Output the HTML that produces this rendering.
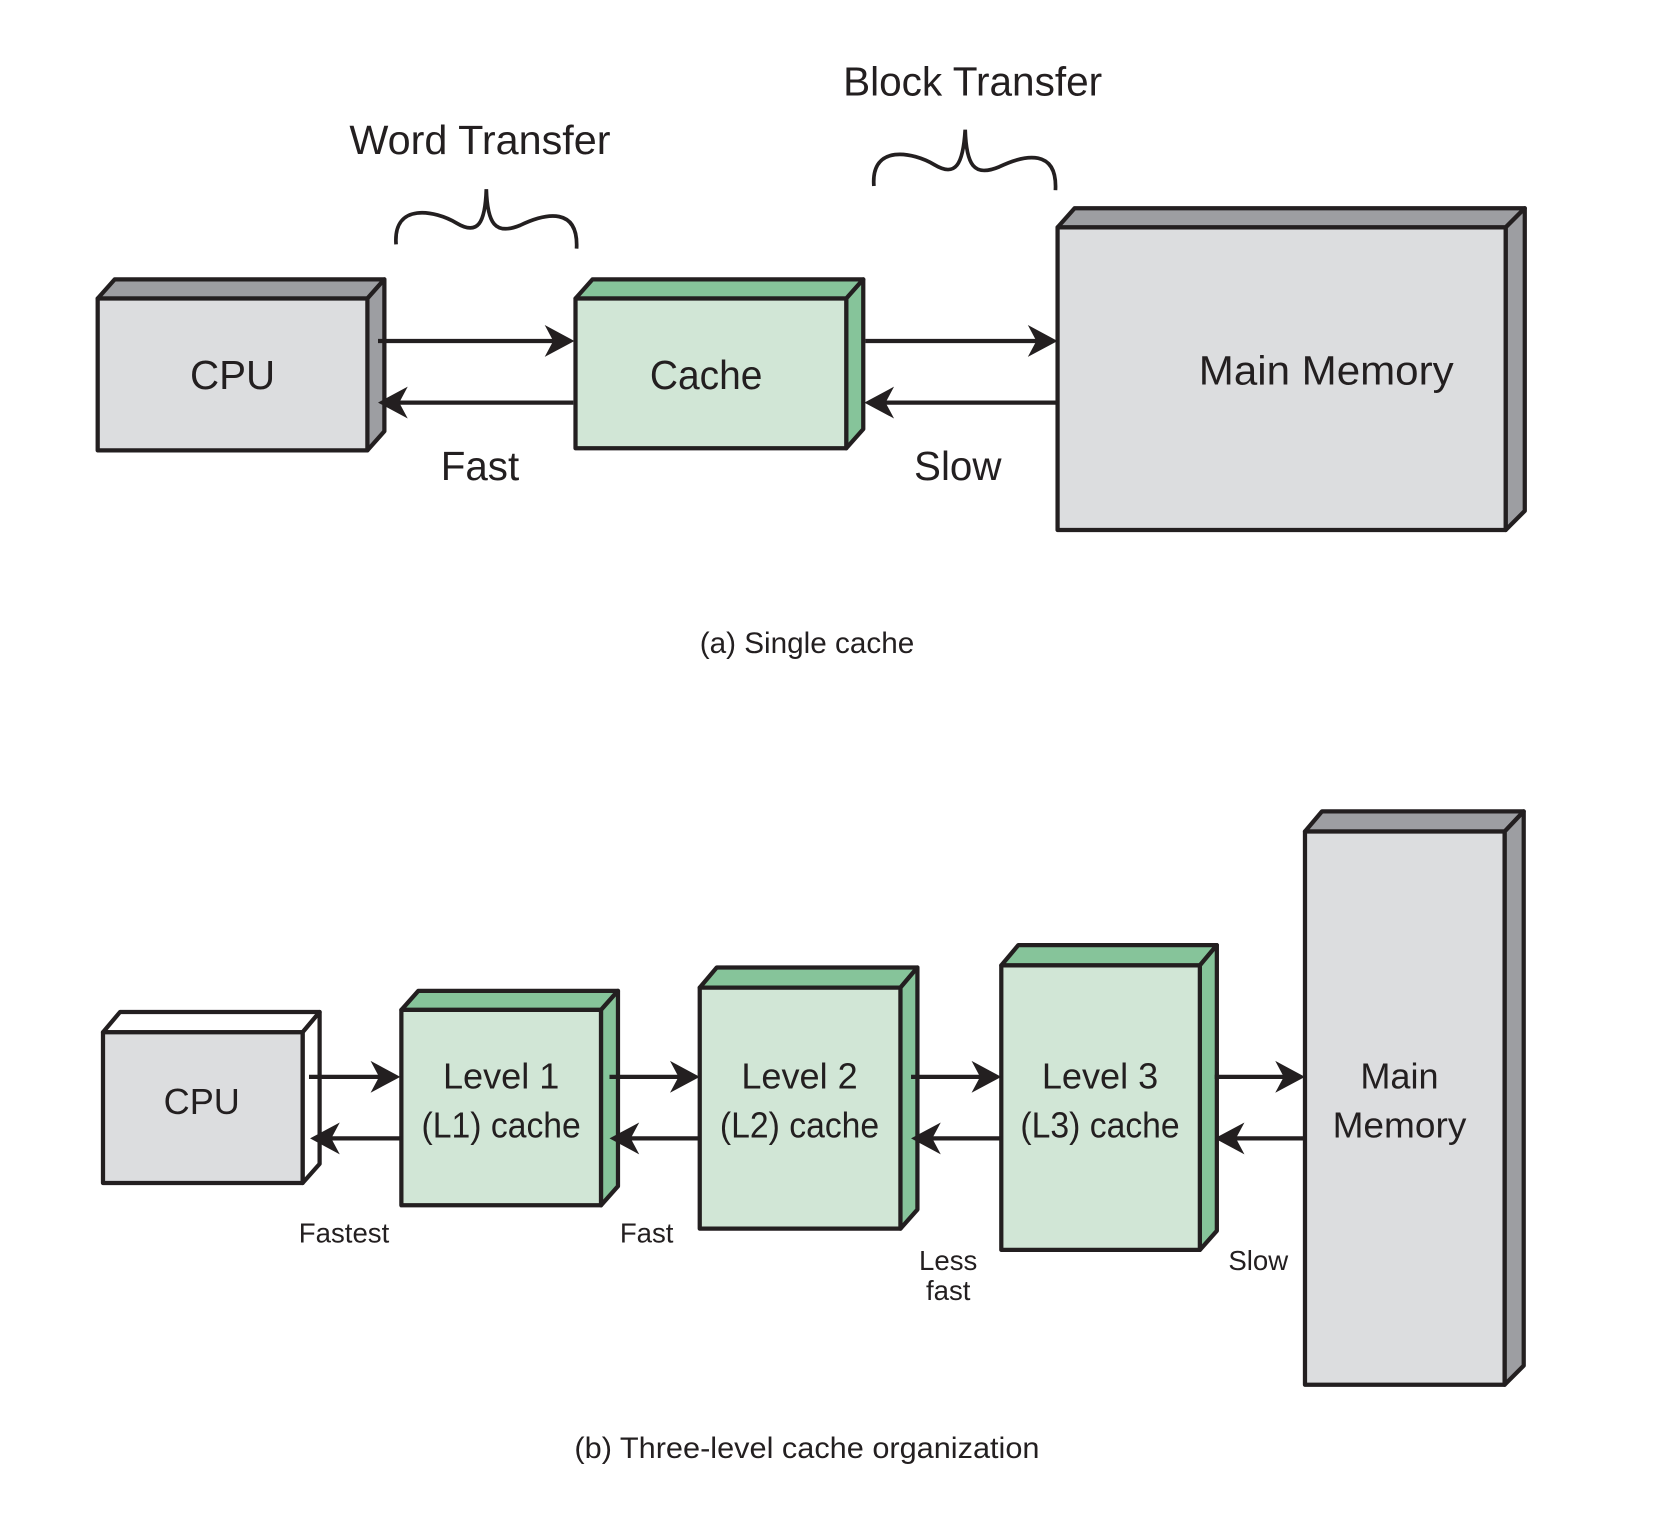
<!DOCTYPE html>
<html><head><meta charset="utf-8"><style>
html,body{margin:0;padding:0;background:#fff}
svg{display:block}
text{font-family:"Liberation Sans",sans-serif;fill:#231f20}
</style></head><body>
<svg width="1666" height="1524" viewBox="0 0 1569 1435" xmlns="http://www.w3.org/2000/svg">
<g stroke="#231f20" stroke-width="4" stroke-linejoin="round">
<polygon points="92,281 108,263 362,263 346,281" fill="#9d9ea2"/>
<polygon points="346,281 362,263 362,406 346,424" fill="#9d9ea2"/>
<rect x="92" y="281" width="254" height="143" fill="#dcdddf"/>
<polygon points="542,281 558,263 813,263 797,281" fill="#86c49a"/>
<polygon points="797,281 813,263 813,404 797,422" fill="#86c49a"/>
<rect x="542" y="281" width="255" height="141" fill="#d1e6d6"/>
<polygon points="996,214 1012,196 1436,196 1418,214" fill="#9d9ea2"/>
<polygon points="1418,214 1436,196 1436,481 1418,499" fill="#9d9ea2"/>
<rect x="996" y="214" width="422" height="285" fill="#dcdddf"/>

<polygon points="97,972 113,953 301,953 285,972" fill="#fff"/>
<polygon points="285,972 301,953 301,1096 285,1114" fill="#fff"/>
<rect x="97" y="972" width="188" height="142" fill="#dcdddf"/>
<polygon points="378,951 394,933 582,933 566,951" fill="#86c49a"/>
<polygon points="566,951 582,933 582,1117 566,1135" fill="#86c49a"/>
<rect x="378" y="951" width="188" height="184" fill="#d1e6d6"/>
<polygon points="659,930 675,911 864,911 848,930" fill="#86c49a"/>
<polygon points="848,930 864,911 864,1139 848,1157" fill="#86c49a"/>
<rect x="659" y="930" width="189" height="227" fill="#d1e6d6"/>
<polygon points="943,909 959,890 1146,890 1130,909" fill="#86c49a"/>
<polygon points="1130,909 1146,890 1146,1159 1130,1177" fill="#86c49a"/>
<rect x="943" y="909" width="187" height="268" fill="#d1e6d6"/>
<polygon points="1229,783 1245,764 1435,764 1417,783" fill="#9d9ea2"/>
<polygon points="1417,783 1435,764 1435,1286 1417,1304" fill="#9d9ea2"/>
<rect x="1229" y="783" width="188" height="521" fill="#dcdddf"/>
</g>

<g stroke="#231f20" stroke-width="4" fill="none">
<line x1="356" y1="321" x2="525" y2="321"/>
<line x1="540" y1="379" x2="372" y2="379"/>
<line x1="815" y1="321" x2="980" y2="321"/>
<line x1="996" y1="379" x2="830" y2="379"/>
<line x1="291" y1="1014" x2="362" y2="1014"/>
<line x1="378" y1="1072" x2="308" y2="1072"/>
<line x1="574" y1="1014" x2="643" y2="1014"/>
<line x1="659" y1="1072" x2="590" y2="1072"/>
<line x1="858" y1="1014" x2="927" y2="1014"/>
<line x1="943" y1="1072" x2="874" y2="1072"/>
<line x1="1144" y1="1014" x2="1213" y2="1014"/>
<line x1="1229" y1="1072" x2="1160" y2="1072"/>
</g>
<g fill="#231f20">
<path d="M541,321 l-28,-15 l8,15 l-8,15 Z"/>
<path d="M356,379 l28,-15 l-8,15 l8,15 Z"/>
<path d="M996,321 l-28,-15 l8,15 l-8,15 Z"/>
<path d="M814,379 l28,-15 l-8,15 l8,15 Z"/>
<path d="M377,1014 l-28,-15 l8,15 l-8,15 Z"/>
<path d="M292,1072 l28,-15 l-8,15 l8,15 Z"/>
<path d="M659,1014 l-28,-15 l8,15 l-8,15 Z"/>
<path d="M574,1072 l28,-15 l-8,15 l8,15 Z"/>
<path d="M943,1014 l-28,-15 l8,15 l-8,15 Z"/>
<path d="M858,1072 l28,-15 l-8,15 l8,15 Z"/>
<path d="M1229,1014 l-28,-15 l8,15 l-8,15 Z"/>
<path d="M1144,1072 l28,-15 l-8,15 l8,15 Z"/>
</g>

<g stroke="#231f20" stroke-width="3.5" fill="none">
<path d="M373,230 C370,190 410,198 430,210 C450,222 457,210 458,178 C459,210 466,222 490,212 C515,200 545,195 543,234"/>
<path d="M823,175 C820,135 860,143 880,155 C900,167 907,155 909,122 C910,155 917,167 941,157 C966,145 996,140 994,179"/>
</g>

<g font-size="38" text-anchor="middle">
<text x="452" y="145" textLength="246" lengthAdjust="spacingAndGlyphs">Word Transfer</text>
<text x="916" y="90" textLength="244" lengthAdjust="spacingAndGlyphs">Block Transfer</text>
<text x="219" y="366">CPU</text>
<text x="665" y="366" textLength="106" lengthAdjust="spacingAndGlyphs">Cache</text>
<text x="1249" y="362" textLength="240" lengthAdjust="spacingAndGlyphs">Main Memory</text>
<text x="452" y="452">Fast</text>
<text x="902" y="452">Slow</text>
</g>
<g font-size="28" text-anchor="middle">
<text x="760" y="615" textLength="202" lengthAdjust="spacingAndGlyphs">(a) Single cache</text>
<text x="760" y="1373" textLength="438" lengthAdjust="spacingAndGlyphs">(b) Three-level cache organization</text>
</g>
<g font-size="34" text-anchor="middle">
<text x="190" y="1049">CPU</text>
<text x="472" y="1025">Level 1</text>
<text x="472" y="1071" textLength="150" lengthAdjust="spacingAndGlyphs">(L1) cache</text>
<text x="753" y="1025">Level 2</text>
<text x="753" y="1071" textLength="150" lengthAdjust="spacingAndGlyphs">(L2) cache</text>
<text x="1036" y="1025">Level 3</text>
<text x="1036" y="1071" textLength="150" lengthAdjust="spacingAndGlyphs">(L3) cache</text>
<text x="1318" y="1025">Main</text>
<text x="1318" y="1071" textLength="126" lengthAdjust="spacingAndGlyphs">Memory</text>
</g>
<g font-size="26" text-anchor="middle">
<text x="324" y="1170">Fastest</text>
<text x="609" y="1170">Fast</text>
<text x="893" y="1196">Less</text>
<text x="893" y="1224">fast</text>
<text x="1185" y="1196">Slow</text>
</g>
</svg>
</body></html>
